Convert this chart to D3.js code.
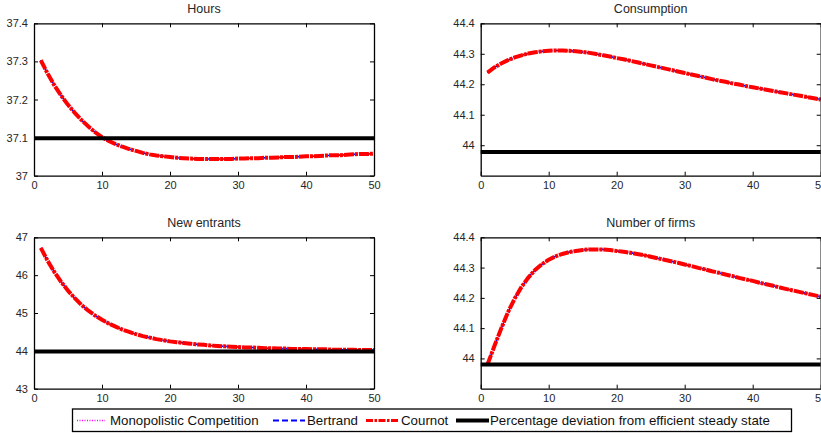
<html>
  <head>
    <meta charset="utf-8">
    <style>
      body { margin: 0; background: #fff; }
      text { font-family: Arial, "Liberation Sans", sans-serif; }
    </style>
  </head>
  <body>
    <script src="https://cdn.jsdelivr.net/npm/d3@7"></script>
    <svg width="821" height="437" id="svg1"></svg>
    <script>

    // periods 1..50
    var periods = d3.range(1, 51);

    var hours = [37.303, 37.268, 37.237, 37.210, 37.186, 37.165, 37.146, 37.129, 37.114, 37.101,
                 37.091, 37.083, 37.076, 37.070, 37.065, 37.060, 37.056, 37.053, 37.051, 37.049,
                 37.047, 37.046, 37.045, 37.044, 37.044, 37.044, 37.044, 37.044, 37.044, 37.045,
                 37.045, 37.046, 37.046, 37.047, 37.047, 37.048, 37.049, 37.049, 37.050, 37.051,
                 37.051, 37.052, 37.053, 37.054, 37.054, 37.055, 37.056, 37.057, 37.057, 37.058];

    var consumption = [44.238, 44.255, 44.268, 44.279, 44.288, 44.295, 44.301, 44.305, 44.308, 44.310,
                       44.311, 44.311, 44.310, 44.308, 44.306, 44.303, 44.299, 44.295, 44.291, 44.286,
                       44.282, 44.277, 44.272, 44.267, 44.262, 44.257, 44.252, 44.247, 44.242, 44.237,
                       44.232, 44.227, 44.222, 44.217, 44.212, 44.208, 44.203, 44.199, 44.194, 44.190,
                       44.186, 44.182, 44.178, 44.174, 44.170, 44.166, 44.162, 44.158, 44.154, 44.150];

    var newEntrants = [46.72, 46.38, 46.08, 45.82, 45.59, 45.39, 45.21, 45.06, 44.93, 44.82,
                       44.72, 44.64, 44.56, 44.50, 44.44, 44.39, 44.35, 44.31, 44.28, 44.25,
                       44.23, 44.21, 44.19, 44.17, 44.16, 44.14, 44.13, 44.12, 44.11, 44.10,
                       44.09, 44.09, 44.08, 44.07, 44.07, 44.06, 44.06, 44.05, 44.05, 44.05,
                       44.04, 44.04, 44.04, 44.03, 44.03, 44.03, 44.03, 44.02, 44.02, 44.02];

    var numFirms = [43.980, 44.040, 44.098, 44.152, 44.198, 44.236, 44.267, 44.292, 44.311, 44.326,
                    44.337, 44.345, 44.351, 44.355, 44.358, 44.360, 44.360, 44.360, 44.358, 44.355,
                    44.352, 44.349, 44.345, 44.341, 44.336, 44.331, 44.326, 44.321, 44.316, 44.310,
                    44.305, 44.299, 44.294, 44.288, 44.283, 44.277, 44.272, 44.266, 44.261, 44.256,
                    44.250, 44.245, 44.240, 44.234, 44.229, 44.224, 44.219, 44.214, 44.209, 44.204];

    // efficient steady state levels
    var steadyState = [37.098, 43.978, 43.98, 43.98];

    var titles = ["Hours", "Consumption", "New entrants", "Number of firms"];
    var yDomains = [[37, 37.4], [43.9, 44.4], [43, 47], [43.9, 44.4]];
    var yTicks = [[37, 37.1, 37.2, 37.3, 37.4], [44, 44.1, 44.2, 44.3, 44.4],
                  [43, 44, 45, 46, 47], [44, 44.1, 44.2, 44.3, 44.4]];
    var xTicks = [0, 10, 20, 30, 40, 50];
    var seriesNames = ["Monopolistic Competition", "Bertrand", "Cournot",
                       "Percentage deviation from efficient steady state"];

    var allSeries = [hours, consumption, newEntrants, numFirms];

    var svg = d3.select("#svg1");

    // panel boxes
    var boxes = [
      {x: 34, y: 23.3, w: 340, h: 152.4},
      {x: 480.7, y: 23.3, w: 340, h: 152.4},
      {x: 34, y: 237.3, w: 340, h: 151.4},
      {x: 480.7, y: 237.3, w: 340, h: 151.4}
    ];

    var fmt = function(d) { return String(+d.toFixed(1)); };

    boxes.forEach(function(b, i) {
      var g = svg.append("g").attr("transform", "translate(" + b.x + "," + b.y + ")");

      var x = d3.scaleLinear().domain([0, 50]).range([0, b.w]);
      var y = d3.scaleLinear().domain(yDomains[i]).range([b.h, 0]);

      g.append("rect").attr("width", b.w).attr("height", b.h).attr("fill", "#fff");

      var data = allSeries[i].map(function(v, k) { return {t: periods[k], v: v}; });
      var line = d3.line().x(function(d) { return x(d.t); }).y(function(d) { return y(d.v); });

      // monopolistic (dotted magenta), bertrand (dashed blue), cournot (dash-dot red)
      g.append("path").datum(data).attr("d", line).attr("fill", "none")
        .attr("stroke", "#ff00ff").attr("stroke-width", 1.2).attr("stroke-dasharray", "1,2");
      g.append("path").datum(data).attr("d", line).attr("fill", "none")
        .attr("stroke", "#0000ff").attr("stroke-width", 1.6).attr("stroke-dasharray", "5,3");
      g.append("path").datum(data).attr("d", line).attr("fill", "none")
        .attr("stroke", "#ff0000").attr("stroke-width", 4).attr("stroke-dasharray", "10,1,3,1");

      // steady state
      g.append("line")
        .attr("x1", x(0)).attr("x2", x(50))
        .attr("y1", y(steadyState[i])).attr("y2", y(steadyState[i]))
        .attr("stroke", "#000").attr("stroke-width", 4);

      // axes, ticks pointing inward
      g.append("g").attr("transform", "translate(0," + b.h + ")")
        .call(d3.axisBottom(x).tickValues(xTicks).tickSizeInner(-4).tickSizeOuter(0).tickPadding(6));
      g.append("g")
        .call(d3.axisTop(x).tickValues(xTicks).tickSizeInner(-4).tickSizeOuter(0).tickFormat(""));
      g.append("g")
        .call(d3.axisLeft(y).tickValues(yTicks[i]).tickSizeInner(-4).tickSizeOuter(0).tickPadding(6).tickFormat(fmt));
      g.append("g").attr("transform", "translate(" + b.w + ",0)")
        .call(d3.axisRight(y).tickValues(yTicks[i]).tickSizeInner(-4).tickSizeOuter(0).tickFormat(""));

      g.selectAll(".domain").attr("stroke", "#000").attr("stroke-width", 1.3);
      g.selectAll(".tick line").attr("stroke", "#000");
      g.selectAll(".tick text").attr("font-size", "11px").attr("fill", "#262626")
        .attr("font-family", "Arial, 'Liberation Sans', sans-serif");

      svg.append("text")
        .attr("x", b.x + b.w / 2).attr("y", b.y - 10)
        .attr("text-anchor", "middle")
        .attr("font-size", "12.5px").attr("fill", "#262626")
        .text(titles[i]);
    });

    // legend
    var lg = svg.append("g");
    lg.append("rect").attr("x", 72.5).attr("y", 409).attr("width", 719).attr("height", 22.5)
      .attr("fill", "#fff").attr("stroke", "#000").attr("stroke-width", 1.3);

    var legendItems = [
      {x1: 77, x2: 105, tx: 110, color: "#ff00ff", w: 1.5, dash: "1,1.5"},
      {x1: 273, x2: 305, tx: 307, color: "#0000ff", w: 2.2, dash: "6,3"},
      {x1: 366, x2: 398, tx: 401, color: "#ff0000", w: 3.2, dash: "7,1.5,2.5,1.5"},
      {x1: 456, x2: 489, tx: 490, color: "#000", w: 4, dash: null}
    ];
    var ly = 420.5;
    legendItems.forEach(function(it, i) {
      var l = lg.append("line").attr("x1", it.x1).attr("x2", it.x2).attr("y1", ly).attr("y2", ly)
        .attr("stroke", it.color).attr("stroke-width", it.w);
      if (it.dash) l.attr("stroke-dasharray", it.dash);
      lg.append("text").attr("x", it.tx).attr("y", ly + 4.5)
        .attr("font-size", "13.3px").attr("fill", "#111")
        .text(seriesNames[i]);
    });

    </script>
  </body>
</html>
